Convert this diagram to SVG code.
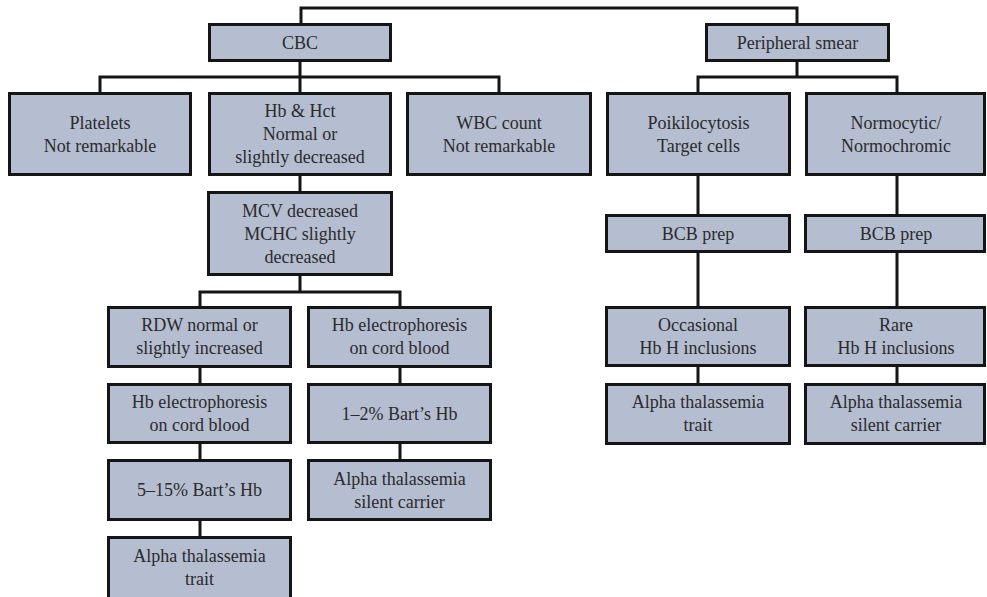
<svg xmlns="http://www.w3.org/2000/svg" width="987" height="597" viewBox="0 0 987 597">
<style>
.box{fill:#b5bdd0;stroke:#151515;stroke-width:3}
.t{font-family:"Liberation Serif","Times New Roman",serif;font-size:18px;fill:#2b2b2b;text-anchor:middle}
.c{fill:none;stroke:#151515;stroke-width:3}
</style>
<rect width="987" height="597" fill="#ffffff"/>
<g id="connectors" class="c">
<path d="M301,23 V8 H797 V23"/>
<path d="M300,62 V92 M100,92 V77 H499 V92"/>
<path d="M797,62 V77 M698,92 V77 H897 V92"/>
<path d="M300,176 V191"/>
<path d="M300,276 V292 M200,306 V292 H400 V306"/>
<path d="M200,368 V383 M200,444 V459 M200,521 V536"/>
<path d="M400,368 V383 M400,444 V459"/>
<path d="M698,176 V214 M698,253 V306 M698,367 V383"/>
<path d="M897,176 V214 M897,253 V306 M897,367 V383"/>
</g>
<g id="cbc"><rect class="box" x="209.5" y="24.5" width="181" height="36"/><text class="t" x="300" y="48.5">CBC</text></g>
<g id="smear"><rect class="box" x="706.5" y="24.5" width="182" height="36"/><text class="t" x="797.5" y="48.5">Peripheral smear</text></g>
<g id="platelets"><rect class="box" x="9.5" y="93.5" width="181" height="81"/><text class="t" x="100" y="128.5">Platelets</text><text class="t" x="100" y="151.5">Not remarkable</text></g>
<g id="hb"><rect class="box" x="209.5" y="93.5" width="181" height="81"/><text class="t" x="300" y="117">Hb &amp; Hct</text><text class="t" x="300" y="140">Normal or</text><text class="t" x="300" y="163">slightly decreased</text></g>
<g id="wbc"><rect class="box" x="407.5" y="93.5" width="183" height="81"/><text class="t" x="499" y="128.5">WBC count</text><text class="t" x="499" y="151.5">Not remarkable</text></g>
<g id="poik"><rect class="box" x="607.5" y="93.5" width="182" height="81"/><text class="t" x="698.5" y="128.5">Poikilocytosis</text><text class="t" x="698.5" y="151.5">Target cells</text></g>
<g id="normo"><rect class="box" x="806.5" y="93.5" width="178" height="81"/><text class="t" x="896" y="128.5">Normocytic/</text><text class="t" x="896" y="151.5">Normochromic</text></g>
<g id="mcv"><rect class="box" x="208.5" y="192.5" width="183" height="82"/><text class="t" x="300" y="216.5">MCV decreased</text><text class="t" x="300" y="239.5">MCHC slightly</text><text class="t" x="300" y="262.5">decreased</text></g>
<g id="rdw"><rect class="box" x="108.5" y="307.5" width="182" height="59"/><text class="t" x="199.5" y="331">RDW normal or</text><text class="t" x="199.5" y="354">slightly increased</text></g>
<g id="electro2"><rect class="box" x="308.5" y="307.5" width="182" height="59"/><text class="t" x="399.5" y="331">Hb electrophoresis</text><text class="t" x="399.5" y="354">on cord blood</text></g>
<g id="electro1"><rect class="box" x="108.5" y="384.5" width="182" height="58"/><text class="t" x="199.5" y="407.5">Hb electrophoresis</text><text class="t" x="199.5" y="430.5">on cord blood</text></g>
<g id="bart12"><rect class="box" x="308.5" y="384.5" width="182" height="58"/><text class="t" x="399.5" y="419.5">1–2% Bart’s Hb</text></g>
<g id="bart515"><rect class="box" x="108.5" y="460.5" width="182" height="59"/><text class="t" x="199.5" y="496">5–15% Bart’s Hb</text></g>
<g id="silent1"><rect class="box" x="308.5" y="460.5" width="182" height="59"/><text class="t" x="399.5" y="484.5">Alpha thalassemia</text><text class="t" x="399.5" y="507.5">silent carrier</text></g>
<g id="trait1"><rect class="box" x="108.5" y="537.5" width="182" height="64"/><text class="t" x="199.5" y="561.5">Alpha thalassemia</text><text class="t" x="199.5" y="584.5">trait</text></g>
<g id="bcb1"><rect class="box" x="606.5" y="215.5" width="183" height="36"/><text class="t" x="698" y="239.5">BCB prep</text></g>
<g id="bcb2"><rect class="box" x="805.5" y="215.5" width="179" height="36"/><text class="t" x="896" y="239.5">BCB prep</text></g>
<g id="occasional"><rect class="box" x="606.5" y="307.5" width="183" height="58"/><text class="t" x="698" y="330.5">Occasional</text><text class="t" x="698" y="353.5">Hb H inclusions</text></g>
<g id="rare"><rect class="box" x="805.5" y="307.5" width="179" height="58"/><text class="t" x="896" y="330.5">Rare</text><text class="t" x="896" y="353.5">Hb H inclusions</text></g>
<g id="trait2"><rect class="box" x="606.5" y="384.5" width="183" height="59"/><text class="t" x="698" y="408">Alpha thalassemia</text><text class="t" x="698" y="431">trait</text></g>
<g id="silent2"><rect class="box" x="805.5" y="384.5" width="179" height="59"/><text class="t" x="896" y="408">Alpha thalassemia</text><text class="t" x="896" y="431">silent carrier</text></g>
</svg>
